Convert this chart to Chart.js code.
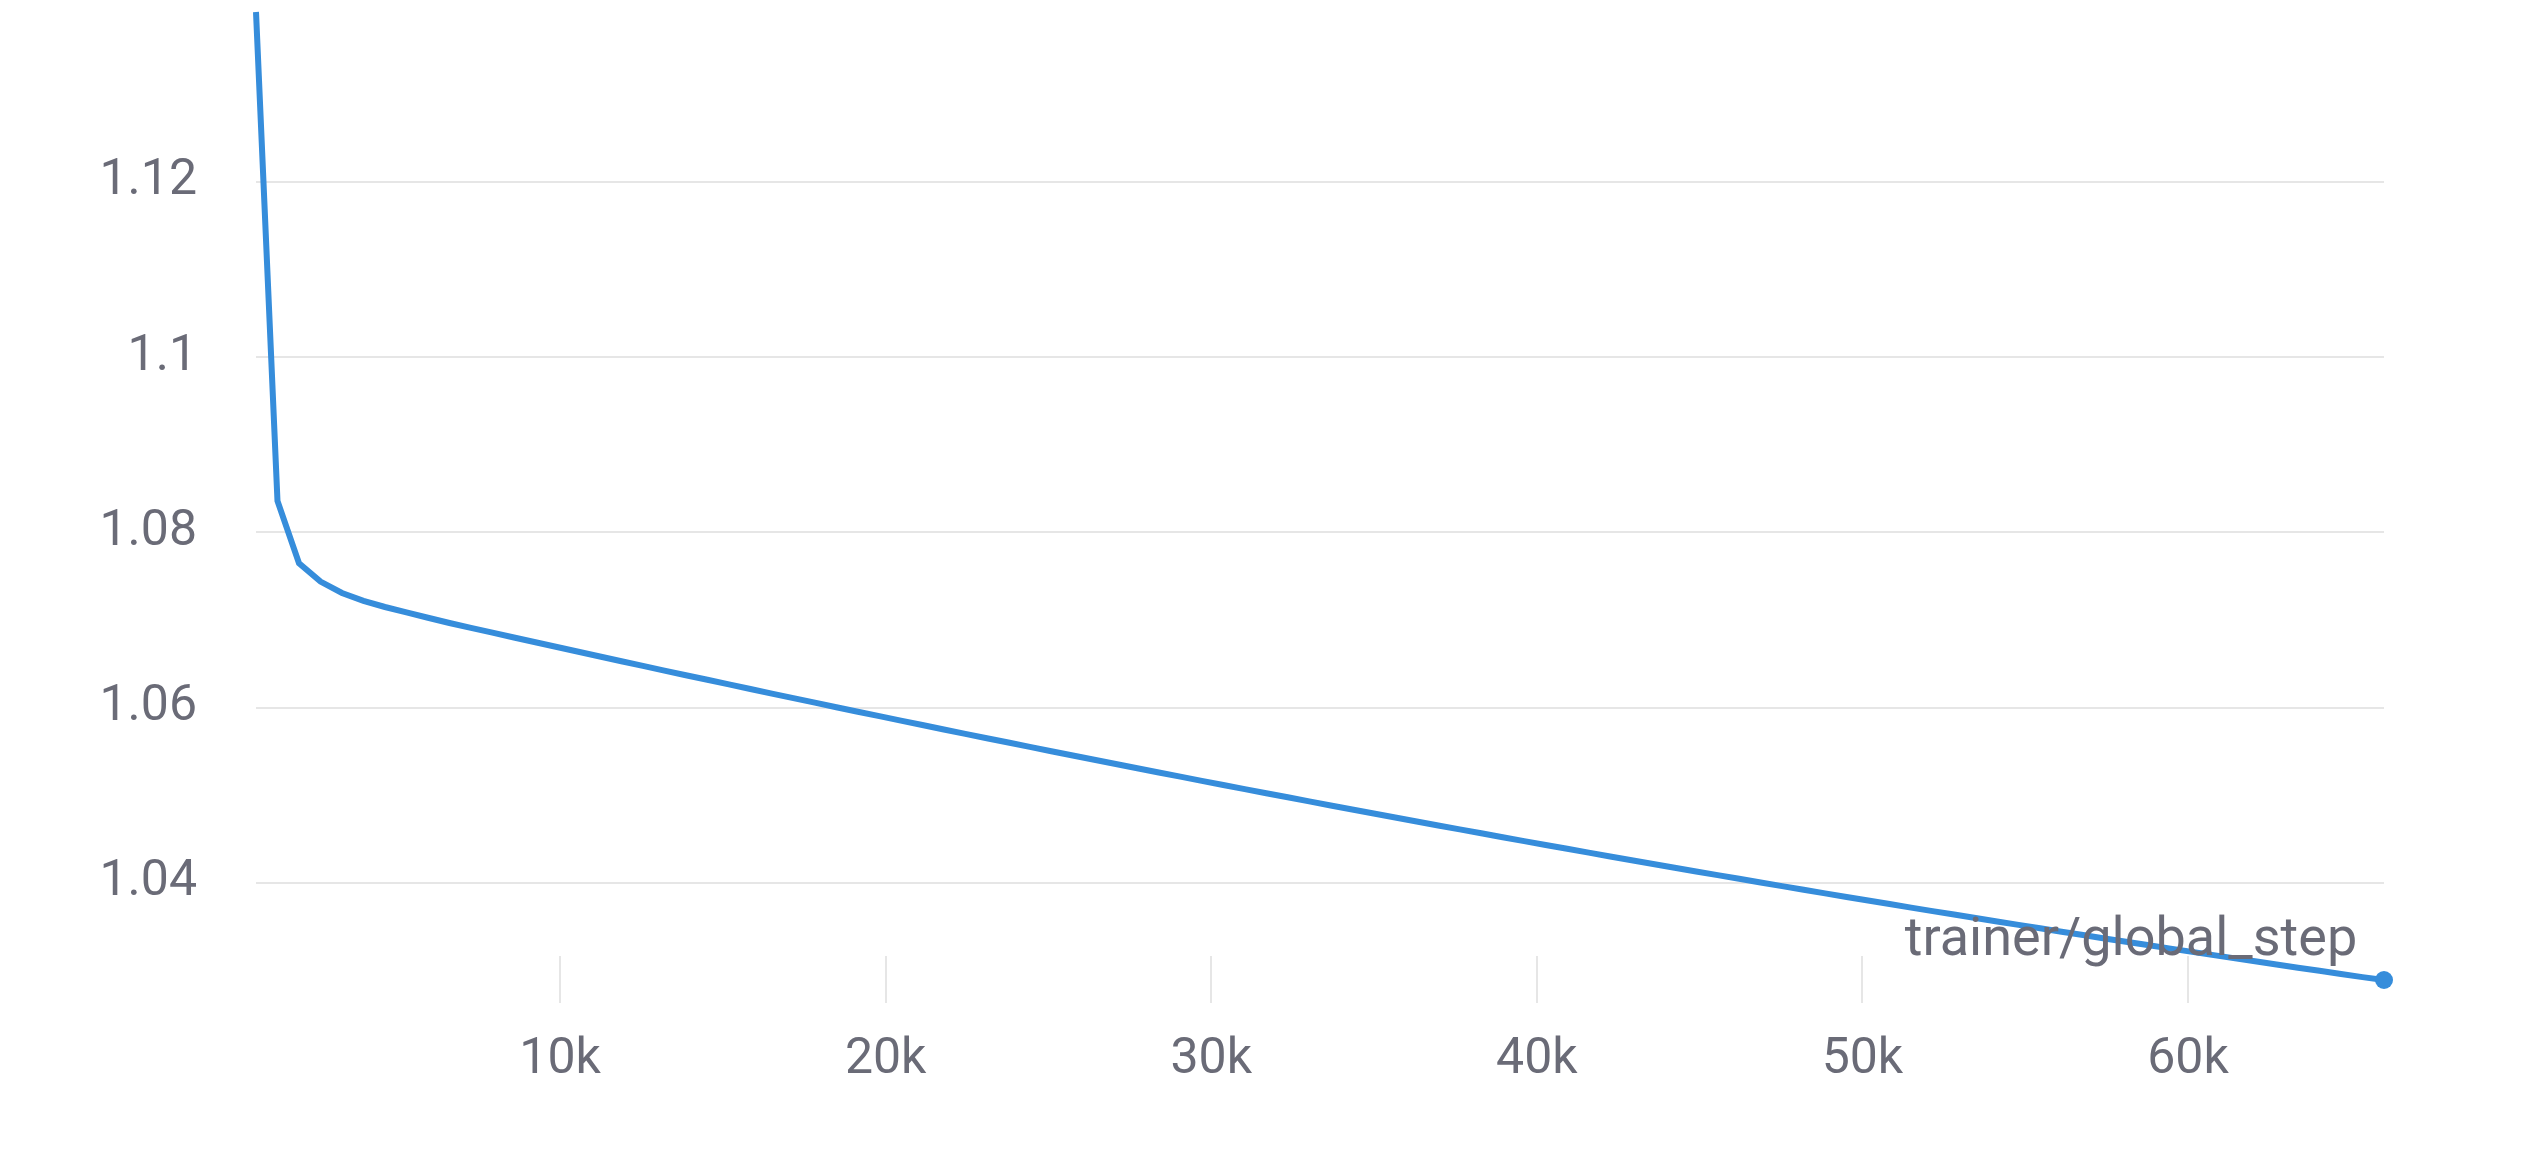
<!DOCTYPE html>
<html>
<head>
<meta charset="utf-8">
<script src="https://cdn.jsdelivr.net/npm/chart.js@4.4.1/dist/chart.umd.min.js"></script>
<style>
  html, body { margin: 0; padding: 0; background: #ffffff; }
  #wrap { width: 2528px; height: 1164px; position: relative; }
</style>
</head>
<body>
<div id="wrap"><canvas id="c" width="2528" height="1164"></canvas></div>
<script>
// ---- data ----
const steps = [
  660, 1320, 1981, 2641, 3301, 3961, 4621, 5282, 5942, 6602,
  7262, 7922, 8583, 9243, 9903, 10563, 11223, 11884, 12544, 13204,
  13864, 14524, 15185, 15845, 16505, 17165, 17825, 18486, 19146, 19806,
  20466, 21126, 21787, 22447, 23107, 23767, 24427, 25088, 25748, 26408,
  27068, 27728, 28389, 29049, 29709, 30369, 31029, 31690, 32350, 33010,
  33670, 34330, 34991, 35651, 36311, 36971, 37631, 38292, 38952, 39612,
  40272, 40932, 41593, 42253, 42913, 43573, 44233, 44894, 45554, 46214,
  46874, 47534, 48195, 48855, 49515, 50175, 50835, 51496, 52156, 52816,
  53476, 54136, 54797, 55457, 56117, 56777, 57437, 58098, 58758, 59418,
  60078, 60738, 61399, 62059, 62719, 63379, 64039, 64700, 65360, 66020
];
const lossValues = [
  1.13940, 1.08360, 1.07650, 1.07440, 1.07310, 1.07220, 1.07150, 1.07088, 1.07027, 1.06967,
  1.06912, 1.06857, 1.06802, 1.06747, 1.06693, 1.06639, 1.06585, 1.06531, 1.06478, 1.06424,
  1.06371, 1.06319, 1.06266, 1.06214, 1.06161, 1.06110, 1.06058, 1.06006, 1.05955, 1.05904,
  1.05853, 1.05803, 1.05752, 1.05702, 1.05652, 1.05603, 1.05553, 1.05504, 1.05455, 1.05406,
  1.05358, 1.05309, 1.05261, 1.05214, 1.05166, 1.05118, 1.05071, 1.05024, 1.04978, 1.04931,
  1.04885, 1.04839, 1.04793, 1.04747, 1.04702, 1.04657, 1.04612, 1.04567, 1.04522, 1.04478,
  1.04434, 1.04390, 1.04347, 1.04303, 1.04260, 1.04217, 1.04174, 1.04132, 1.04090, 1.04048,
  1.04006, 1.03964, 1.03923, 1.03882, 1.03841, 1.03800, 1.03760, 1.03719, 1.03679, 1.03640,
  1.03600, 1.03561, 1.03522, 1.03483, 1.03444, 1.03406, 1.03367, 1.03329, 1.03292, 1.03254,
  1.03217, 1.03180, 1.03143, 1.03106, 1.03070, 1.03033, 1.02998, 1.02962, 1.02926, 1.02893
];
const yTickValues = [1.04, 1.06, 1.08, 1.1, 1.12];
const xTickValues = [10000, 20000, 30000, 40000, 50000, 60000];
const xTickLabels = ['10k', '20k', '30k', '40k', '50k', '60k'];
const xAxisTitle = 'trainer/global_step';

// ---- style ----
const LINE_COLOR = '#368ddb';
const TEXT_COLOR = '#6a6b77';
const GRID_COLOR = '#e6e6e6';
const FONT_FAMILY = 'Roboto, "Noto Sans", sans-serif';

const points = steps.map((s, i) => ({ x: s, y: lossValues[i] }));
const lastIndex = points.length - 1;

// short x tick marks straddling the bottom of the plot area
const xTickMarks = {
  id: 'xTickMarks',
  beforeDatasetsDraw(chart) {
    const xs = chart.scales.x;
    const bottom = chart.chartArea.bottom;
    const ctx = chart.ctx;
    ctx.save();
    ctx.strokeStyle = GRID_COLOR;
    ctx.lineWidth = 2;
    xs.ticks.forEach(t => {
      const px = Math.round(xs.getPixelForValue(t.value));
      ctx.beginPath();
      ctx.moveTo(px, bottom - 24);
      ctx.lineTo(px, bottom + 23);
      ctx.stroke();
    });
    ctx.restore();
  }
};

function noOverflowPadding(scale) {
  scale.paddingTop = 0;
  scale.paddingBottom = 0;
  scale.paddingLeft = 0;
  scale.paddingRight = 0;
}

new Chart(document.getElementById('c'), {
  type: 'line',
  data: {
    datasets: [{
      data: points,
      borderColor: LINE_COLOR,
      backgroundColor: LINE_COLOR,
      borderWidth: 6,
      tension: 0,
      fill: false,
      clip: false,
      pointRadius: ctx => ctx.dataIndex === lastIndex ? 9 : 0,
      pointHoverRadius: 0,
      pointBorderWidth: 0,
      pointBackgroundColor: LINE_COLOR
    }]
  },
  options: {
    responsive: false,
    devicePixelRatio: 1,
    animation: false,
    events: [],
    layout: { autoPadding: false, padding: { top: 12, right: 144, bottom: 0, left: 0 } },
    plugins: {
      legend: { display: false },
      tooltip: { enabled: false },
      title: { display: false }
    },
    scales: {
      x: {
        type: 'linear',
        min: steps[0],
        max: steps[lastIndex],
        afterBuildTicks: scale => { scale.ticks = xTickValues.map(v => ({ value: v })); },
        afterFit: scale => { scale.height = 184; noOverflowPadding(scale); },
        grid: { display: false, drawTicks: false, z: 1 },
        border: { display: false },
        ticks: {
          color: TEXT_COLOR,
          font: { family: FONT_FAMILY, size: 50 },
          padding: 50,
          maxRotation: 0,
          autoSkip: false,
          callback: (v) => xTickLabels[xTickValues.indexOf(v)]
        },
        title: {
          display: true,
          text: xAxisTitle + '  ',
          align: 'end',
          color: TEXT_COLOR,
          font: { family: FONT_FAMILY, size: 54 },
          padding: { top: 0, bottom: 190 }
        }
      },
      y: {
        type: 'linear',
        min: lossValues[lastIndex],
        max: lossValues[0],
        afterBuildTicks: scale => { scale.ticks = yTickValues.map(v => ({ value: v })); },
        afterFit: scale => { scale.width = 256; noOverflowPadding(scale); },
        grid: { color: GRID_COLOR, lineWidth: 2, drawTicks: false },
        border: { display: false },
        ticks: {
          color: TEXT_COLOR,
          font: { family: FONT_FAMILY, size: 50 },
          padding: 59,
          callback: v => String(v)
        }
      }
    }
  },
  plugins: [xTickMarks]
});
</script>
</body>
</html>
